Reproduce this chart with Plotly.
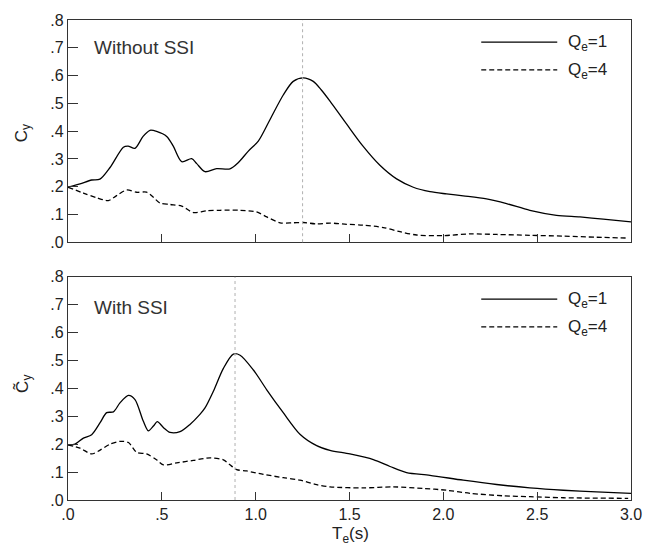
import plotly.graph_objects as go

# ---- data ----
t_top_q1 = [0.0, 0.064, 0.126, 0.17, 0.224, 0.295, 0.32, 0.357, 0.40, 0.437, 0.472, 0.526, 0.561, 0.606,
            0.659, 0.686, 0.73, 0.792, 0.863, 0.908, 0.961, 1.014, 1.076, 1.147, 1.2, 1.254, 1.307, 1.35, 1.396,
            1.485, 1.573, 1.662, 1.751, 1.84, 1.929, 2.017, 2.106, 2.23, 2.337, 2.461, 2.603, 2.728, 2.852, 3.0]
c_top_q1 = [0.198, 0.21, 0.224, 0.227, 0.269, 0.342, 0.346, 0.338, 0.381, 0.403, 0.399, 0.381, 0.346, 0.290,
            0.301, 0.283, 0.254, 0.265, 0.264, 0.287, 0.328, 0.364, 0.441, 0.530, 0.579, 0.592, 0.579, 0.548, 0.508,
            0.425, 0.345, 0.277, 0.228, 0.198, 0.182, 0.174, 0.167, 0.156, 0.139, 0.115, 0.097, 0.091, 0.083, 0.073]

t_top_q4 = [0.0, 0.082, 0.153, 0.215, 0.259, 0.313, 0.366, 0.419, 0.455, 0.49, 0.544, 0.606, 0.668, 0.739,
            0.81, 0.917, 1.005, 1.059, 1.13, 1.2, 1.254, 1.325, 1.396, 1.485, 1.573, 1.68, 1.769, 1.858,
            2.0, 2.142, 2.284, 2.461, 2.639, 2.816, 2.985]
c_top_q4 = [0.198, 0.177, 0.160, 0.150, 0.168, 0.188, 0.180, 0.180, 0.162, 0.141, 0.136, 0.130, 0.107, 0.113,
            0.115, 0.115, 0.109, 0.091, 0.070, 0.070, 0.071, 0.066, 0.069, 0.0645, 0.0617, 0.053, 0.038, 0.026,
            0.024, 0.030, 0.028, 0.025, 0.022, 0.018, 0.015]

t_bot_q1 = [0.0, 0.037, 0.082, 0.126, 0.171, 0.206, 0.242, 0.277, 0.322, 0.357, 0.401, 0.428, 0.455, 0.476,
            0.508, 0.544, 0.597, 0.65, 0.703, 0.73, 0.774, 0.828, 0.881, 0.917, 0.988, 1.059, 1.147, 1.236,
            1.325, 1.396, 1.502, 1.627, 1.716, 1.804, 1.929, 2.106, 2.284, 2.461, 2.639, 2.816, 3.0]
c_bot_q1 = [0.198, 0.2, 0.222, 0.234, 0.277, 0.313, 0.316, 0.348, 0.375, 0.36, 0.283, 0.248, 0.265, 0.281,
            0.26, 0.242, 0.245, 0.271, 0.307, 0.33, 0.389, 0.472, 0.523, 0.519, 0.466, 0.395, 0.313, 0.236,
            0.195, 0.178, 0.165, 0.145, 0.120, 0.098, 0.0885, 0.071, 0.0555, 0.0435, 0.035, 0.029, 0.024]

t_bot_q4 = [0.0, 0.064, 0.126, 0.171, 0.224, 0.277, 0.322, 0.366, 0.419, 0.472, 0.508, 0.579, 0.668, 0.757,
            0.828, 0.863, 0.899, 0.952, 1.041, 1.147, 1.236, 1.325, 1.396, 1.573, 1.733, 1.893, 2.017, 2.142,
            2.319, 2.461, 2.639, 2.985]
c_bot_q4 = [0.198, 0.186, 0.165, 0.179, 0.2, 0.21, 0.206, 0.171, 0.165, 0.144, 0.126, 0.133, 0.142, 0.151,
            0.144, 0.126, 0.109, 0.104, 0.092, 0.080, 0.071, 0.055, 0.047, 0.0435, 0.047, 0.0414, 0.035, 0.024,
            0.015, 0.012, 0.008, 0.006]

peak_top = 1.25
peak_bot = 0.89

y_tickvals = [0.0, 0.1, 0.2, 0.3, 0.4, 0.5, 0.6, 0.7, 0.8]
y_ticktext = [".0", ".1", ".2", ".3", ".4", ".5", ".6", ".7", ".8"]
x_tickvals = [0.0, 0.5, 1.0, 1.5, 2.0, 2.5, 3.0]
x_ticktext = [".0", ".5", "1.0", "1.5", "2.0", "2.5", "3.0"]

legend_labels = ["Q<sub>e</sub>=1", "Q<sub>e</sub>=4"]
panel_labels = ["Without SSI", "With SSI"]

FONT = "Liberation Sans, Arial, sans-serif"
INK = "#222222"

fig = go.Figure()

def add_line(x, y, xa, ya, dash):
    fig.add_trace(go.Scatter(
        x=x, y=y, xaxis=xa, yaxis=ya, mode="lines",
        line=dict(color="black", width=1.3, dash=dash, shape="spline", smoothing=0.8),
        showlegend=False, hoverinfo="skip"))

add_line(t_top_q1, c_top_q1, "x", "y", "solid")
add_line(t_top_q4, c_top_q4, "x", "y", "5px,3px")
add_line(t_bot_q1, c_bot_q1, "x2", "y2", "solid")
add_line(t_bot_q4, c_bot_q4, "x2", "y2", "5px,3px")

axis_common = dict(range=[0, 3.0], showgrid=False, zeroline=False, showline=True, mirror=True,
                   linecolor="#333333", linewidth=1.3, ticks="inside", ticklen=8, tickwidth=1,
                   tickcolor="#333333", tickvals=x_tickvals, ticktext=x_ticktext,
                   tickfont=dict(family=FONT, size=16, color=INK))
yaxis_common = dict(range=[0, 0.8], showgrid=False, zeroline=False, showline=True, mirror=True,
                    linecolor="#333333", linewidth=1.3, ticks="inside", ticklen=10, tickwidth=1,
                    tickcolor="#333333", tickvals=y_tickvals, ticktext=y_ticktext,
                    tickfont=dict(family=FONT, size=16, color=INK))

fig.update_layout(
    width=662, height=559,
    margin=dict(l=68, r=31, t=14, b=59),
    paper_bgcolor="white", plot_bgcolor="white",
    xaxis=dict(axis_common, domain=[0, 1], anchor="y", showticklabels=False),
    yaxis=dict(yaxis_common, domain=[0.537, 1.0], anchor="x"),
    xaxis2=dict(axis_common, domain=[0, 1], anchor="y2"),
    yaxis2=dict(yaxis_common, domain=[0.0, 0.465], anchor="x2"),
    showlegend=False,
)

# dotted peak markers
for xv, xr, yr in [(peak_top, "x", "y domain"), (peak_bot, "x2", "y2 domain")]:
    fig.add_shape(type="line", x0=xv, x1=xv, y0=0, y1=1, xref=xr, yref=yr,
                  line=dict(color="#b0b0b0", width=1, dash="dot"))

annotations = []
# manual legends and panel labels
for i, (xr, yr) in enumerate([("x domain", "y domain"), ("x2 domain", "y2 domain")]):
    for j, (lab, dash) in enumerate(zip(legend_labels, ["solid", "5px,3px"])):
        yy = 0.90 if j == 0 else 0.776
        fig.add_shape(type="line", x0=0.734, x1=0.869, y0=yy, y1=yy, xref=xr, yref=yr,
                      line=dict(color="black", width=1.2, dash=dash))
        annotations.append(dict(x=0.884, y=yy - 0.005, xref=xr, yref=yr, text=lab, showarrow=False,
                                xanchor="left", yanchor="middle",
                                font=dict(family=FONT, size=17, color=INK)))
    annotations.append(dict(x=0.042, y=0.878 if i == 0 else 0.862, xref=xr, yref=yr, text=panel_labels[i],
                            showarrow=False, xanchor="left", yanchor="middle",
                            font=dict(family=FONT, size=19, color="#333333")))

# axis titles
annotations.append(dict(x=-0.08, y=0.49, xref="paper", yref="y domain", text="C<sub>y</sub>",
                        showarrow=False, textangle=-90, xanchor="center", yanchor="middle",
                        font=dict(family=FONT, size=17, color=INK)))
annotations.append(dict(x=-0.08, y=0.52, xref="paper", yref="y2 domain", text="C\u0303<sub>y</sub>",
                        showarrow=False, textangle=-90, xanchor="center", yanchor="middle",
                        font=dict(family=FONT, size=17, color=INK)))
annotations.append(dict(x=0.501, y=-0.072, xref="paper", yref="paper", text="T<sub>e</sub>(s)",
                        showarrow=False, xanchor="center", yanchor="middle",
                        font=dict(family=FONT, size=17, color=INK)))
fig.update_layout(annotations=annotations)

fig.write_html("out.html", config={"displayModeBar": False},
               post_script="document.body.style.margin='0';document.body.style.overflow='hidden';")
